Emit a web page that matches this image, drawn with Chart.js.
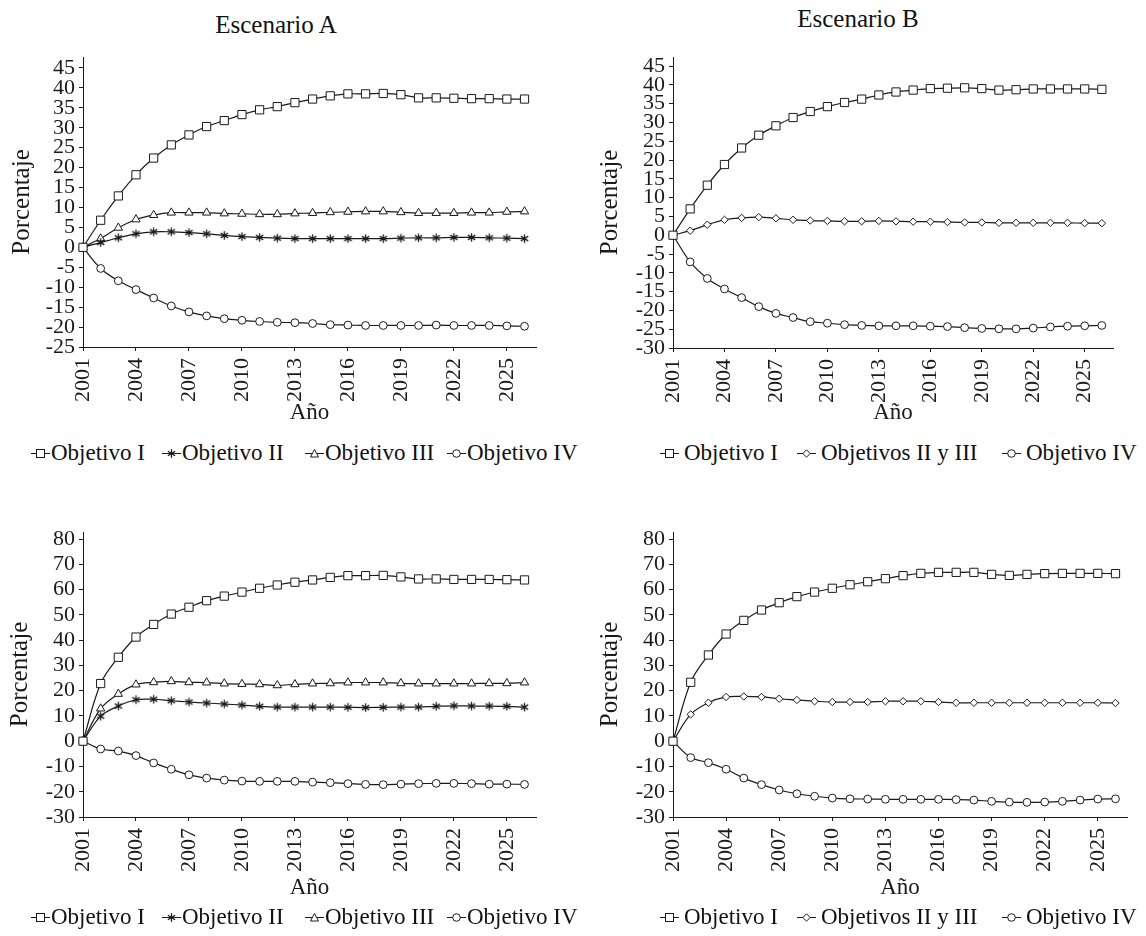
<!DOCTYPE html>
<html lang="es">
<head>
    <meta charset="UTF-8">
    <title>Escenarios A y B</title>
    <script src="https://cdn.jsdelivr.net/npm/chart.js"></script>
    <style>
        body {
            margin: 0;
            background: #fff;
            font-family: "Liberation Serif", "Times New Roman", serif;
            color: #111;
        }
        #page {
            position: relative;
            width: 1146px;
            height: 936px;
            overflow: hidden;
        }
        .panel {
            position: absolute;
        }
        .title {
            position: absolute;
            font-size: 25px;
            line-height: 25px;
            white-space: nowrap;
            transform: translateX(-50%);
        }
        .legend {
            position: absolute;
            left: 0;
            width: 1146px;
            height: 24px;
            font-size: 23px;
            line-height: 24px;
            white-space: nowrap;
        }
        .legend .item {
            position: absolute;
            top: 0;
            display: flex;
            align-items: center;
        }
        .legend svg {
            display: block;
            margin-right: 1px;
        }
        .legend .spaced svg {
            margin-right: 5px;
        }
    </style>
</head>
<body>
<div id="page">
    <div class="title" style="left:276px; top:12px;">Escenario A</div>
    <div class="title" style="left:858px; top:6px;">Escenario B</div>

    <div class="panel" style="left:0px; top:40px; width:560px; height:390px;"><canvas id="chartA"></canvas></div>
    <div class="panel" style="left:580px; top:40px; width:566px; height:390px;"><canvas id="chartB"></canvas></div>
    <div class="panel" style="left:0px; top:515px; width:560px; height:390px;"><canvas id="chartC"></canvas></div>
    <div class="panel" style="left:580px; top:515px; width:566px; height:390px;"><canvas id="chartD"></canvas></div>

    <div class="legend" id="legendTop" style="top:441px;"></div>
    <div class="legend" id="legendBottom" style="top:905px;"></div>
</div>

<script>
    // años (eje x) y etiquetas de los ejes
    const years = [2001, 2002, 2003, 2004, 2005, 2006, 2007, 2008, 2009, 2010, 2011, 2012, 2013,
                   2014, 2015, 2016, 2017, 2018, 2019, 2020, 2021, 2022, 2023, 2024, 2025, 2026];
    const xTickYears = [2001, 2004, 2007, 2010, 2013, 2016, 2019, 2022, 2025];
    const yTicksA = [-25, -20, -15, -10, -5, 0, 5, 10, 15, 20, 25, 30, 35, 40, 45];
    const yTicksB = [-30, -25, -20, -15, -10, -5, 0, 5, 10, 15, 20, 25, 30, 35, 40, 45];
    const yTicksLow = [-30, -20, -10, 0, 10, 20, 30, 40, 50, 60, 70, 80];

    // Escenario A, gráfico superior
    const aObjI   = [0, 6.8, 12.9, 18.2, 22.4, 25.7, 28.2, 30.3, 31.8, 33.3, 34.5, 35.3, 36.3, 37.2, 38.0, 38.5, 38.5, 38.6, 38.3, 37.5, 37.5, 37.4, 37.3, 37.3, 37.2, 37.2];
    const aObjII  = [0, 1.2, 2.4, 3.4, 3.9, 3.9, 3.7, 3.4, 3.0, 2.7, 2.5, 2.3, 2.2, 2.2, 2.2, 2.2, 2.2, 2.2, 2.3, 2.4, 2.4, 2.5, 2.5, 2.4, 2.3, 2.2];
    const aObjIII = [0, 2.2, 4.9, 7.0, 8.1, 8.7, 8.7, 8.7, 8.5, 8.4, 8.3, 8.3, 8.5, 8.6, 8.8, 8.9, 9.0, 9.0, 8.8, 8.6, 8.6, 8.6, 8.7, 8.7, 8.9, 9.0];
    const aObjIV  = [0, -5.3, -8.4, -10.6, -12.7, -14.7, -16.2, -17.2, -17.9, -18.3, -18.6, -18.8, -18.9, -19.1, -19.4, -19.5, -19.6, -19.6, -19.6, -19.6, -19.5, -19.6, -19.6, -19.6, -19.7, -19.8];

    // Escenario B, gráfico superior
    const bObjI     = [0, 7.0, 13.3, 18.8, 23.2, 26.6, 29.1, 31.3, 32.9, 34.2, 35.3, 36.2, 37.3, 38.1, 38.6, 39.0, 39.1, 39.2, 39.0, 38.6, 38.7, 38.9, 38.9, 38.9, 38.9, 38.8];
    const bObjIIIII = [0, 1.2, 2.8, 4.1, 4.6, 4.8, 4.5, 4.1, 3.9, 3.8, 3.7, 3.7, 3.8, 3.7, 3.6, 3.6, 3.5, 3.4, 3.4, 3.3, 3.3, 3.3, 3.3, 3.3, 3.2, 3.2];
    const bObjIV    = [0, -7.1, -11.5, -14.3, -16.6, -19.0, -20.8, -21.9, -23.0, -23.4, -23.8, -24.0, -24.1, -24.1, -24.1, -24.2, -24.3, -24.6, -24.8, -24.9, -24.9, -24.7, -24.4, -24.2, -24.1, -24.0];

    // Escenario A, gráfico inferior
    const cObjI   = [0, 22.8, 33.2, 41.2, 46.2, 50.3, 53.0, 55.6, 57.4, 59.0, 60.5, 61.8, 62.9, 63.8, 64.8, 65.5, 65.5, 65.6, 65.0, 64.2, 64.2, 64.0, 64.0, 64.0, 63.9, 63.8];
    const cObjII  = [0, 9.9, 13.9, 16.4, 16.6, 16.0, 15.5, 15.1, 14.7, 14.3, 13.8, 13.5, 13.5, 13.5, 13.5, 13.4, 13.3, 13.4, 13.5, 13.5, 13.8, 14.0, 13.9, 13.9, 13.8, 13.5];
    const cObjIII = [0, 12.9, 18.7, 22.4, 23.3, 23.7, 23.3, 23.2, 22.8, 22.6, 22.5, 22.1, 22.5, 22.8, 22.9, 23.2, 23.2, 23.2, 22.9, 22.8, 22.8, 22.8, 22.8, 22.9, 22.9, 23.2];
    const cObjIV  = [0, -3.1, -3.9, -5.7, -8.6, -11.1, -13.3, -14.6, -15.4, -15.8, -15.9, -15.9, -15.9, -16.2, -16.4, -16.8, -17.1, -17.2, -17.0, -16.8, -16.7, -16.7, -16.8, -17.0, -17.0, -17.1];

    // Escenario B, gráfico inferior
    const dObjI     = [0, 23.3, 34.1, 42.4, 47.8, 51.9, 54.8, 57.2, 59.0, 60.5, 61.9, 63.1, 64.3, 65.5, 66.4, 66.8, 66.8, 66.8, 66.0, 65.6, 66.0, 66.3, 66.4, 66.4, 66.4, 66.3];
    const dObjIIIII = [0, 10.6, 15.2, 17.5, 17.7, 17.5, 16.8, 16.3, 15.8, 15.5, 15.5, 15.5, 15.8, 15.8, 15.8, 15.5, 15.2, 15.2, 15.2, 15.2, 15.2, 15.2, 15.2, 15.2, 15.2, 15.1];
    const dObjIV    = [0, -6.5, -8.5, -11.1, -14.6, -17.2, -19.3, -20.8, -21.8, -22.5, -22.8, -22.9, -23.0, -23.0, -23.0, -23.0, -23.1, -23.3, -23.8, -24.1, -24.2, -24.1, -23.8, -23.3, -22.9, -22.8];

    const FONT = "'Liberation Serif', 'Times New Roman', serif";
    const INK = '#1a1a1a';

    // asterisco de 6 brazos (marcador de Excel)
    function asteriskCanvas(r) {
        const c = document.createElement('canvas');
        const s = Math.ceil(r * 2 + 2);
        c.width = s; c.height = s;
        const g = c.getContext('2d');
        g.strokeStyle = INK;
        g.lineWidth = 1.3;
        g.beginPath();
        g.moveTo(s / 2, s / 2 - r); g.lineTo(s / 2, s / 2 + r);
        g.moveTo(s / 2 - r * 0.85, s / 2 - r * 0.55); g.lineTo(s / 2 + r * 0.85, s / 2 + r * 0.55);
        g.moveTo(s / 2 - r * 0.85, s / 2 + r * 0.55); g.lineTo(s / 2 + r * 0.85, s / 2 - r * 0.55);
        g.stroke();
        return c;
    }
    const asterisk = asteriskCanvas(4.3);

    const markers = {
        square:   { pointStyle: 'rect', pointRadius: 5.8 },
        asterisk: { pointStyle: asterisk, pointRadius: 4.3 },
        triangle: { pointStyle: 'triangle', pointRadius: 4.8 },
        circle:   { pointStyle: 'circle', pointRadius: 3.9 },
        diamond:  { pointStyle: 'rectRot', pointRadius: 3.7 }
    };

    function series(label, values, marker) {
        return Object.assign({
            label: label,
            data: years.map((y, i) => ({ x: y, y: values[i] })),
            borderColor: INK,
            borderWidth: 1.2,
            pointBorderColor: INK,
            pointBackgroundColor: '#fff',
            pointBorderWidth: 1,
            tension: 0.35,
            clip: false
        }, markers[marker]);
    }

    function makeChart(id, box, yTicks, yMax, datasets) {
        const ctx = document.getElementById(id).getContext('2d');
        return new Chart(ctx, {
            type: 'line',
            data: { datasets: datasets },
            options: {
                responsive: true,
                maintainAspectRatio: false,
                animation: false,
                events: [],
                layout: { padding: { top: box.top, right: box.right, left: 0, bottom: 0 } },
                plugins: { legend: { display: false }, tooltip: { enabled: false } },
                scales: {
                    x: {
                        type: 'linear',
                        min: 2001,
                        max: 2026.65,
                        afterBuildTicks: scale => { scale.ticks = xTickYears.map(v => ({ value: v })); },
                        afterFit: scale => { scale.height = box.xHeight; scale.paddingLeft = 0; scale.paddingRight = 0; },
                        grid: { drawOnChartArea: false, drawTicks: true, tickLength: 4, color: INK },
                        border: { display: true, color: INK, width: 1 },
                        ticks: {
                            autoSkip: false,
                            minRotation: 90,
                            maxRotation: 90,
                            padding: 7,
                            color: INK,
                            font: { family: FONT, size: 22 },
                            callback: v => String(v)
                        },
                        title: {
                            display: true,
                            text: 'Año',
                            color: INK,
                            font: { family: FONT, size: 23 },
                            padding: { top: 0, bottom: 3 }
                        }
                    },
                    y: {
                        min: yTicks[0],
                        max: yMax,
                        afterBuildTicks: scale => { scale.ticks = yTicks.map(v => ({ value: v })); },
                        afterFit: scale => { scale.width = box.axis; scale.paddingTop = 0; scale.paddingBottom = 0; },
                        grid: { drawOnChartArea: false, drawTicks: true, tickLength: 4, color: INK },
                        border: { display: true, color: INK, width: 1 },
                        ticks: {
                            autoSkip: false,
                            padding: 4,
                            color: INK,
                            font: { family: FONT, size: 22 },
                            callback: v => String(v)
                        },
                        title: {
                            display: true,
                            text: 'Porcentaje',
                            color: INK,
                            font: { family: FONT, size: 25 },
                            padding: { top: box.yTitle, bottom: 0 }
                        }
                    }
                }
            }
        });
    }

    // cajas: eje y (px desde el borde del panel), relleno superior y derecho, alto del eje x
    makeChart('chartA', { axis: 83, top: 17, right: 24, xHeight: 83, yTitle: 7 }, yTicksA, 47.75, [
        series('Objetivo I', aObjI, 'square'),
        series('Objetivo II', aObjII, 'asterisk'),
        series('Objetivo III', aObjIII, 'triangle'),
        series('Objetivo IV', aObjIV, 'circle')
    ]);
    makeChart('chartB', { axis: 93, top: 17, right: 33, xHeight: 82, yTitle: 15 }, yTicksB, 47.4, [
        series('Objetivo I', bObjI, 'square'),
        series('Objetivos II y III', bObjIIIII, 'diamond'),
        series('Objetivo IV', bObjIV, 'circle')
    ]);
    makeChart('chartC', { axis: 83, top: 17, right: 24, xHeight: 88, yTitle: 5 }, yTicksLow, 82.77, [
        series('Objetivo I', cObjI, 'square'),
        series('Objetivo II', cObjII, 'asterisk'),
        series('Objetivo III', cObjIII, 'triangle'),
        series('Objetivo IV', cObjIV, 'circle')
    ]);
    makeChart('chartD', { axis: 93, top: 17, right: 19, xHeight: 88, yTitle: 15 }, yTicksLow, 82.77, [
        series('Objetivo I', dObjI, 'square'),
        series('Objetivos II y III', dObjIIIII, 'diamond'),
        series('Objetivo IV', dObjIV, 'circle')
    ]);

    // leyendas: línea corta con el marcador
    function markerSvg(kind) {
        const shapes = {
            square: '<rect x="5.5" y="2.5" width="8" height="8" fill="#fff" stroke="' + INK + '"/>',
            asterisk: '<path d="M9.5 2.3v8.4M5.9 4.2l7.2 4.6M5.9 8.8l7.2-4.6" stroke="' + INK + '" stroke-width="1.3"/>',
            triangle: '<path d="M9.5 2.4L13.5 10H5.5z" fill="#fff" stroke="' + INK + '"/>',
            circle: '<circle cx="9.5" cy="6.5" r="3.8" fill="#fff" stroke="' + INK + '"/>',
            diamond: '<path d="M9.5 2.8L13.2 6.5 9.5 10.2 5.8 6.5z" fill="#fff" stroke="' + INK + '"/>'
        };
        return '<svg width="19" height="13" viewBox="0 0 19 13"><line x1="0" y1="6.5" x2="19" y2="6.5" stroke="' + INK + '" stroke-width="1"/>' + shapes[kind] + '</svg>';
    }
    function fillLegend(el, labels, kinds, lefts, spaced) {
        labels.forEach((text, i) => {
            const item = document.createElement('span');
            item.className = spaced ? 'item spaced' : 'item';
            item.style.left = lefts[i] + 'px';
            item.innerHTML = markerSvg(kinds[i]);
            item.appendChild(document.createTextNode(text));
            el.appendChild(item);
        });
    }
    const labels4 = ['Objetivo I', 'Objetivo II', 'Objetivo III', 'Objetivo IV'];
    const kinds4 = ['square', 'asterisk', 'triangle', 'circle'];
    const labels3 = ['Objetivo I', 'Objetivos II y III', 'Objetivo IV'];
    const kinds3 = ['square', 'diamond', 'circle'];
    const leftA = [31, 162, 305, 447];
    const leftB = [660, 797, 1002];
    ['legendTop', 'legendBottom'].forEach(id => {
        const el = document.getElementById(id);
        fillLegend(el, labels4, kinds4, leftA, false);
        fillLegend(el, labels3, kinds3, leftB, true);
    });
</script>
</body>
</html>
